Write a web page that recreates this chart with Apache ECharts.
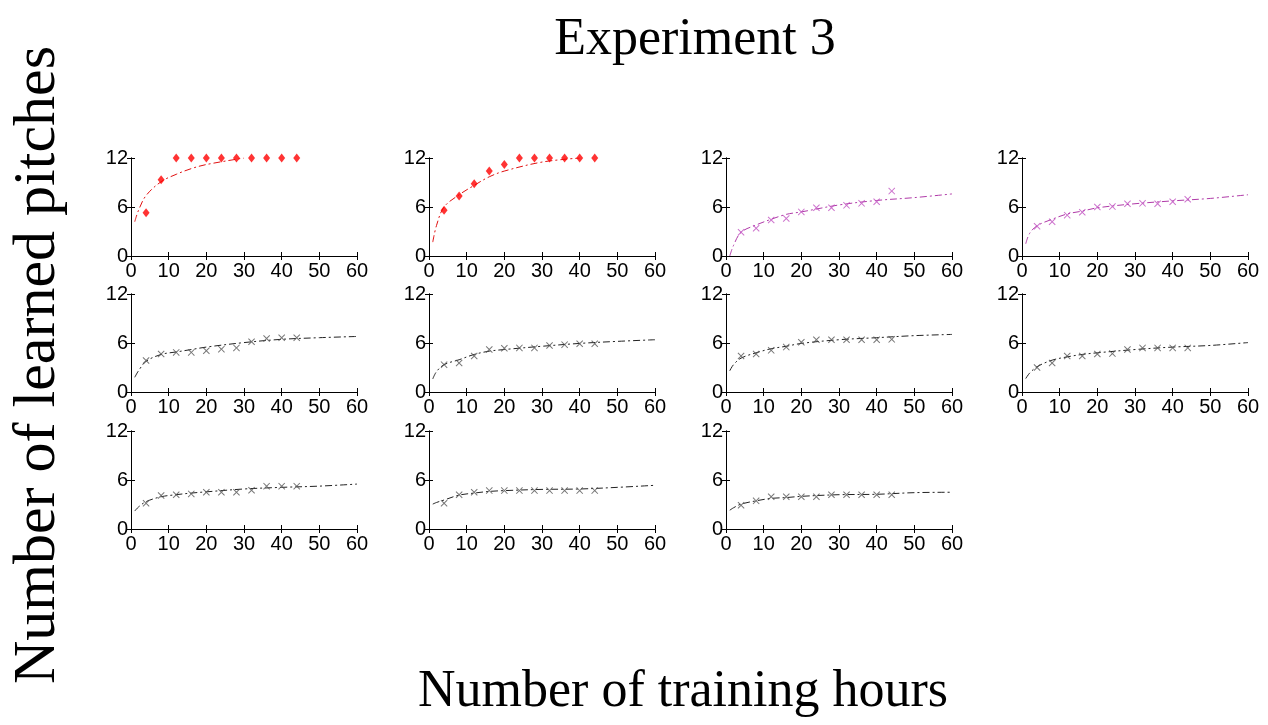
<!DOCTYPE html>
<html><head><meta charset="utf-8">
<script src="https://cdn.jsdelivr.net/npm/echarts@6/dist/echarts.min.js"></script>
<style>html,body{margin:0;padding:0;background:#fff}#c{width:1268px;height:725px}</style>
</head><body><div id="c"></div>
<script>
// ---- data ----
const chartTitle = 'Experiment 3';
const xTitle = 'Number of training hours';
const yTitle = 'Number of learned pitches';
const xTicks = [0, 10, 20, 30, 40, 50, 60];
const yTicks = [0, 6, 12];
const hours = [4, 8, 12, 16, 20, 24, 28, 32, 36, 40, 44];
const fitHours = [1, 2, 4, 8, 12, 16, 20, 30, 40, 50, 60];

const points1 = [5.3, 9.35, 12, 12, 12, 12, 12, 12, 12, 12, 12];
const points2 = [5.6, 7.35, 8.85, 10.4, 11.2, 12, 12, 12, 12, 12, 12];
const points3 = [2.9, 3.4, 4.4, 4.6, 5.4, 5.9, 5.9, 6.2, 6.45, 6.65, 7.95];
const points4 = [3.65, 4.2, 5.0, 5.35, 6.0, 6.05, 6.4, 6.45, 6.4, 6.65, 6.95];
const points5 = [3.85, 4.65, 4.85, 4.85, 5.05, 5.25, 5.4, 6.15, 6.55, 6.65, 6.65];
const points6 = [3.35, 3.55, 4.4, 5.2, 5.35, 5.4, 5.4, 5.7, 5.8, 5.9, 5.9];
const points7 = [4.4, 4.65, 5.1, 5.5, 6.1, 6.4, 6.4, 6.4, 6.4, 6.4, 6.45];
const points8 = [3.0, 3.55, 4.4, 4.4, 4.65, 4.7, 5.2, 5.4, 5.4, 5.4, 5.4];
const points9 = [3.15, 4.1, 4.2, 4.3, 4.5, 4.5, 4.5, 4.75, 5.25, 5.25, 5.25];
const points10 = [3.15, 4.2, 4.5, 4.7, 4.7, 4.7, 4.7, 4.7, 4.7, 4.7, 4.7];
const points11 = [2.9, 3.45, 3.95, 3.95, 3.95, 3.95, 4.2, 4.2, 4.2, 4.2, 4.2];

const fit1 = [4.2, 5.6, 7.4, 9.1, 10.0, 10.7, 11.2, 12, null, null, null];
const fit2 = [1.7, 3.75, 6.0, 7.5, 8.65, 9.7, 10.4, 11.5, 12, null, null];
const fit3 = [0, 1.3, 2.9, 3.8, 4.5, 5.1, 5.4, 6.25, 6.8, 7.15, 7.6];
const fit4 = [1.5, 2.75, 3.7, 4.5, 5.15, 5.5, 5.9, 6.4, 6.75, 7.05, 7.5];
const fit5 = [1.8, 2.6, 3.75, 4.6, 4.9, 5.2, 5.5, 6.05, 6.45, 6.65, 6.8];
const fit6 = [1.6, 2.5, 3.35, 3.95, 4.6, 5.0, 5.2, 5.6, 5.95, 6.2, 6.4];
const fit7 = [2.6, 3.35, 4.15, 4.8, 5.3, 5.6, 5.95, 6.4, 6.65, 6.9, 7.05];
const fit8 = [1.65, 2.3, 3.1, 3.9, 4.3, 4.6, 4.8, 5.2, 5.5, 5.7, 6.05];
const fit9 = [2.2, 2.7, 3.35, 3.95, 4.2, 4.4, 4.55, 4.9, 5.1, 5.25, 5.5];
const fit10 = [3.05, 3.25, 3.55, 4.15, 4.4, 4.6, 4.7, 4.85, 4.9, 5.1, 5.35];
const fit11 = [2.3, 2.6, 3.05, 3.45, 3.75, 3.85, 4.0, 4.2, 4.25, 4.45, 4.5];

const panelPoints = [points1, points2, points3, points4, points5, points6, points7, points8, points9, points10, points11];
const panelFits = [fit1, fit2, fit3, fit4, fit5, fit6, fit7, fit8, fit9, fit10, fit11];
const panelKinds = ['red', 'red', 'magenta', 'magenta', 'black', 'black', 'black', 'black', 'black', 'black', 'black'];

// ---- layout / style ----
const colLefts = [131, 429, 726, 1022];
const rowTops = [158, 294, 431];
const gw = 226, gh = 98;
const crossPath = 'path://M0,1L1,0L5,4L9,0L10,1L6,5L10,9L9,10L5,6L1,10L0,9L4,5Z';
const styles = {
  red: { line: '#e01010', mark: '#ff0000', symbol: 'diamond', size: [7, 9] },
  magenta: { line: '#b03aa8', mark: '#c050c0', symbol: crossPath, size: 7 },
  black: { line: '#222', mark: '#555', symbol: crossPath, size: 7 }
};
const tickFont = { fontFamily: 'Liberation Sans Narrow, Liberation Sans, Arial', fontSize: 20, color: '#000' };

const grid = [], xAxis = [], yAxis = [], series = [];
panelPoints.forEach((pts, i) => {
  const r = Math.floor(i / 4), c = i % 4;
  grid.push({ left: colLefts[c], top: rowTops[r], width: gw, height: gh, show: false });
  const axLine = { show: true, lineStyle: { color: '#000', width: 1 } };
  const tick = { show: true, inside: true, length: 4, lineStyle: { color: '#000' } };
  xAxis.push({ gridIndex: i, type: 'value', min: 0, max: 60, interval: 10, position: 'bottom',
    axisLine: axLine, axisTick: tick, splitLine: { show: false },
    axisLabel: Object.assign({ margin: 5 }, tickFont) });
  xAxis.push({ gridIndex: i, type: 'value', min: 0, max: 60, interval: 10, position: 'top',
    axisLine: axLine, axisTick: tick, splitLine: { show: false }, axisLabel: { show: false } });
  yAxis.push({ gridIndex: i, type: 'value', min: 0, max: 12, interval: 6, position: 'left',
    axisLine: axLine, axisTick: tick, splitLine: { show: false },
    axisLabel: Object.assign({ margin: 3 }, tickFont) });
  yAxis.push({ gridIndex: i, type: 'value', min: 0, max: 12, interval: 6, position: 'right',
    axisLine: axLine, axisTick: tick, splitLine: { show: false }, axisLabel: { show: false } });
  const st = styles[panelKinds[i]];
  series.push({ type: 'line', xAxisIndex: 2 * i, yAxisIndex: 2 * i, smooth: 0.35, showSymbol: false,
    data: fitHours.map((h, k) => [h, panelFits[i][k]]),
    lineStyle: { color: st.line, width: 1, type: [7, 3, 2, 3] }, z: 2, silent: true });
  series.push({ type: 'scatter', xAxisIndex: 2 * i, yAxisIndex: 2 * i,
    data: hours.map((h, k) => [h, pts[k]]), symbol: st.symbol, symbolSize: st.size,
    itemStyle: { color: st.mark }, z: 3, silent: true });
});

const chart = echarts.init(document.getElementById('c'), null, { renderer: 'canvas' });
chart.setOption({
  animation: false,
  backgroundColor: '#fff',
  title: { text: chartTitle, left: 690, top: 9, textAlign: 'center',
    textStyle: { fontFamily: 'Liberation Serif, Times New Roman, serif', fontSize: 52, fontWeight: 'normal', color: '#000' } },
  grid, xAxis, yAxis, series,
  graphic: [
    { type: 'text', left: 418, top: 666, style: { text: xTitle, fontFamily: 'Liberation Serif, Times New Roman, serif', fontSize: 52, fill: '#000' } },
    { type: 'text', x: 68, y: 365, rotation: Math.PI / 2,
      style: { text: yTitle, fontFamily: 'Liberation Serif, Times New Roman, serif', fontSize: 60, fill: '#000', align: 'center', verticalAlign: 'bottom' } }
  ]
});
</script></body></html>
